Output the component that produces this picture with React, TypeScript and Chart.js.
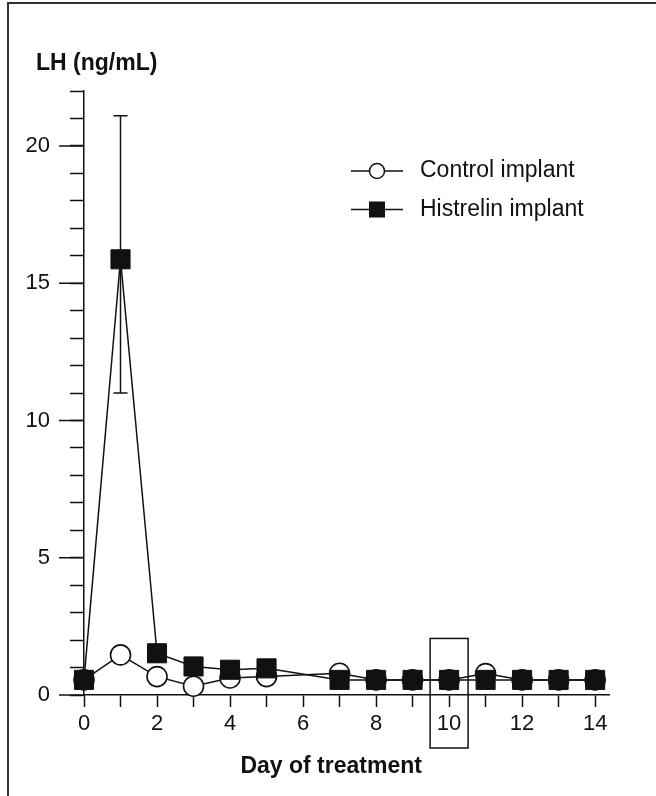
import React, { useEffect, useRef } from 'react';
import { Chart, registerables } from 'chart.js';

Chart.register(...registerables);

// ---- data ----
const days = [0, 1, 2, 3, 4, 5, 7, 8, 9, 10, 11, 12, 13, 14];
const controlLH = [0.55, 1.46, 0.67, 0.32, 0.62, 0.67, 0.79, 0.55, 0.55, 0.55, 0.78, 0.55, 0.55, 0.55];
const histrelinLH = [0.55, 15.87, 1.52, 1.04, 0.92, 0.97, 0.55, 0.55, 0.55, 0.55, 0.55, 0.55, 0.55, 0.55];
const errorDays = [1];
const errorLow = [11.0];
const errorHigh = [21.1];
const seriesNames = ['Control implant', 'Histrelin implant'];
const xTickValues = [0, 1, 2, 3, 4, 5, 6, 7, 8, 9, 10, 11, 12, 13, 14];
const xTickLabels = ['0', '', '2', '', '4', '', '6', '', '8', '', '10', '', '12', '', '14'];
const yTickValues = [0, 1, 2, 3, 4, 5, 6, 7, 8, 9, 10, 11, 12, 13, 14, 15, 16, 17, 18, 19, 20, 21, 22];
const yLabelledTicks = [0, 5, 10, 15, 20];
const yAxisTitle = 'LH (ng/mL)';
const xAxisTitle = 'Day of treatment';
const highlightDay = 10;

const INK = '#111';
const FONT = "'Liberation Sans', Arial, Helvetica, sans-serif";

const decorPlugin = {
  id: 'decor',
  beforeDatasetsDraw(chart: any) {
    const { ctx } = chart;
    const xs = chart.scales.x;
    const ys = chart.scales.y;
    ctx.save();
    ctx.strokeStyle = INK;
    ctx.lineWidth = 1.5;
    errorDays.forEach((d, i) => {
      const px = xs.getPixelForValue(d);
      const top = ys.getPixelForValue(errorHigh[i]);
      const bot = ys.getPixelForValue(errorLow[i]);
      ctx.beginPath();
      ctx.moveTo(px, top);
      ctx.lineTo(px, bot);
      ctx.moveTo(px - 7, top);
      ctx.lineTo(px + 7, top);
      ctx.moveTo(px - 7, bot);
      ctx.lineTo(px + 7, bot);
      ctx.stroke();
    });
    ctx.restore();
  },
  afterDraw(chart: any) {
    const { ctx, chartArea: area } = chart;
    const xs = chart.scales.x;
    const ys = chart.scales.y;
    ctx.save();
    ctx.strokeStyle = INK;
    ctx.fillStyle = INK;
    ctx.lineWidth = 1.5;
    // long (labelled) y ticks
    ctx.beginPath();
    yLabelledTicks.forEach((v) => {
      const py = ys.getPixelForValue(v);
      ctx.moveTo(area.left - 25, py);
      ctx.lineTo(area.left, py);
    });
    ctx.stroke();
    // highlight box around day 10
    const bx0 = xs.getPixelForValue(highlightDay - 0.52);
    const bx1 = xs.getPixelForValue(highlightDay + 0.52);
    const by0 = ys.getPixelForValue(2.06);
    const by1 = area.bottom + 53;
    ctx.strokeRect(bx0, by0, bx1 - bx0, by1 - by0);
    // y-axis title (horizontal, above the axis)
    ctx.font = `bold 23px ${FONT}`;
    ctx.textAlign = 'left';
    ctx.textBaseline = 'alphabetic';
    ctx.fillText(yAxisTitle, area.left - 48, area.top - 21);
    // x-axis title
    ctx.textAlign = 'center';
    ctx.fillText(xAxisTitle, xs.getPixelForValue(6.77), area.bottom + 78);
    // legend
    const rows = [area.top + 80, area.top + 118.5];
    const lx0 = area.left + 267;
    const lx1 = area.left + 319;
    const mx = (lx0 + lx1) / 2;
    ctx.font = `23px ${FONT}`;
    ctx.textAlign = 'left';
    ctx.textBaseline = 'middle';
    rows.forEach((ry, i) => {
      ctx.beginPath();
      ctx.moveTo(lx0, ry);
      ctx.lineTo(lx1, ry);
      ctx.stroke();
      if (i === 0) {
        ctx.beginPath();
        ctx.arc(mx, ry, 7.5, 0, Math.PI * 2);
        ctx.fillStyle = '#fff';
        ctx.fill();
        ctx.stroke();
      } else {
        ctx.fillStyle = INK;
        ctx.fillRect(mx - 8, ry - 8, 16, 16);
      }
      ctx.fillStyle = INK;
      ctx.fillText(seriesNames[i], area.left + 336, ry);
    });
    ctx.restore();
  },
};

export default function App() {
  const ref = useRef<HTMLCanvasElement>(null);

  useEffect(() => {
    const canvas = ref.current;
    if (!canvas) return;
    Chart.defaults.font.family = FONT;
    const chart = new Chart(canvas, {
      type: 'line',
      data: {
        datasets: [
          {
            label: seriesNames[0],
            data: days.map((d, i) => ({ x: d, y: controlLH[i] })),
            borderColor: INK,
            borderWidth: 1.5,
            backgroundColor: '#fff',
            pointStyle: 'circle',
            pointRadius: 10,
            pointBorderWidth: 1.6,
            pointBackgroundColor: '#fff',
            pointBorderColor: INK,
            tension: 0,
            clip: false,
            order: 2,
          },
          {
            label: seriesNames[1],
            data: days.map((d, i) => ({ x: d, y: histrelinLH[i] })),
            borderColor: INK,
            borderWidth: 1.5,
            backgroundColor: INK,
            pointStyle: 'rect',
            pointRadius: 13.5,
            pointBorderWidth: 1,
            pointBackgroundColor: INK,
            pointBorderColor: INK,
            tension: 0,
            clip: false,
            order: 1,
          },
        ],
      },
      options: {
        animation: false,
        responsive: false,
        devicePixelRatio: 1,
        layout: { padding: { left: 20, right: 47, top: 91, bottom: 17 } },
        plugins: {
          legend: { display: false },
          tooltip: { enabled: false },
          title: { display: false },
        },
        scales: {
          x: {
            type: 'linear',
            min: 0,
            max: 14.38,
            afterBuildTicks: (s: any) => {
              s.ticks = xTickValues.map((v) => ({ value: v }));
            },
            afterFit: (s: any) => {
              s.height = 84;
              s.paddingLeft = 0;
              s.paddingRight = 0;
            },
            ticks: {
              autoSkip: false,
              maxRotation: 0,
              padding: 4,
              color: INK,
              font: { family: FONT, size: 22 },
              callback: (_v: any, i: number) => xTickLabels[i],
            },
            grid: { drawOnChartArea: false, tickLength: 12, tickWidth: 1.5, tickColor: INK },
            border: { display: true, color: INK, width: 1.5 },
          },
          y: {
            type: 'linear',
            min: 0,
            max: 22,
            afterBuildTicks: (s: any) => {
              s.ticks = yTickValues.map((v) => ({ value: v }));
            },
            afterFit: (s: any) => {
              s.width = 64;
              s.paddingTop = 0;
              s.paddingBottom = 0;
            },
            ticks: {
              autoSkip: false,
              padding: 20,
              color: INK,
              font: { family: FONT, size: 22 },
              callback: (v: any) => (yLabelledTicks.includes(Number(v)) ? String(v) : ''),
            },
            grid: { drawOnChartArea: false, tickLength: 14, tickWidth: 1.5, tickColor: INK },
            border: { display: true, color: INK, width: 1.5 },
          },
        },
      },
      plugins: [decorPlugin],
    } as any);
    return () => chart.destroy();
  }, []);

  return (
    <div style={{ position: 'absolute', left: 0, top: 0, width: 656, height: 796, background: '#fff', overflow: 'hidden' }}>
      <canvas ref={ref} width={656} height={796} style={{ display: 'block', width: 656, height: 796 }} />
      <div
        style={{
          position: 'absolute',
          left: 7,
          top: 2,
          width: 660,
          height: 800,
          borderTop: '2px solid #333',
          borderLeft: '2px solid #333',
          pointerEvents: 'none',
        }}
      />
    </div>
  );
}
